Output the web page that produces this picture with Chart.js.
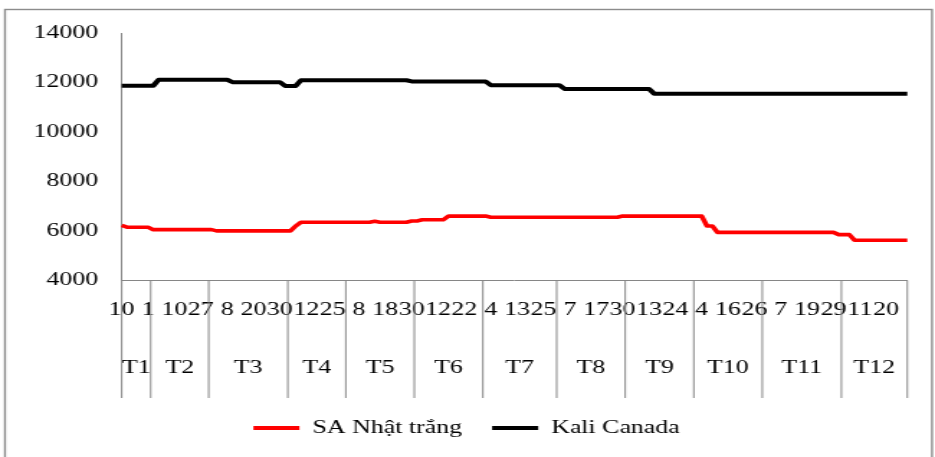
<!DOCTYPE html>
<html>
<head>
<meta charset="utf-8">
<script src="https://cdn.jsdelivr.net/npm/chart.js@4.4.1/dist/chart.umd.min.js"></script>
<style>
html,body{margin:0;padding:0;background:#fff;overflow:hidden}
#wrap{width:935px;height:457px;position:relative}
canvas{display:block}
</style>
</head>
<body>
<div id="wrap"><canvas id="c" width="650" height="457" style="width:935px;height:457px"></canvas></div>
<script>
// ---- data ----
const months = ['T1','T2','T3','T4','T5','T6','T7','T8','T9','T10','T11','T12'];
const daysT1  = [10,14,17,21,25,1];
const daysT2  = [2,4,6,8,10,14,17,21,24,27,28];
const daysT3  = [1,3,6,8,10,13,15,17,20,22,24,27,28,30,31];
const daysT4  = [3,5,9,12,14,17,19,23,25,27,29];
const daysT5  = [3,6,8,10,13,15,16,18,21,23,25,28,30];
const daysT6  = [1,4,6,8,12,14,16,18,20,22,25,27,29];
const daysT7  = [2,4,6,8,10,11,13,16,18,20,23,25,27,30];
const daysT8  = [1,3,7,9,11,13,15,17,20,22,24,27,30];
const daysT9  = [3,5,7,10,13,15,17,19,21,24,26,28,30];
const daysT10 = [2,4,7,9,11,14,16,18,21,23,24,26,29];
const daysT11 = [1,3,5,7,9,12,14,16,19,21,23,25,27,29,30];
const daysT12 = [3,5,8,11,13,15,17,18,20,23,25,27,30];
const monthDays = [daysT1,daysT2,daysT3,daysT4,daysT5,daysT6,daysT7,daysT8,daysT9,daysT10,daysT11,daysT12];

const saNhatTrang = [
  6220,6150,6150,6150,6150,6150,6050,6050,6050,6050,
  6050,6050,6050,6050,6050,6050,6050,6050,6000,6000,
  6000,6000,6000,6000,6000,6000,6000,6000,6000,6000,
  6000,6000,6000,6200,6350,6350,6350,6350,6350,6350,
  6350,6350,6350,6350,6350,6350,6350,6350,6390,6350,
  6350,6350,6350,6350,6350,6400,6400,6450,6450,6450,
  6450,6450,6600,6600,6600,6600,6600,6600,6600,6600,
  6550,6550,6550,6550,6550,6550,6550,6550,6550,6550,
  6550,6550,6550,6550,6550,6550,6550,6550,6550,6550,
  6550,6550,6550,6550,6550,6600,6600,6600,6600,6600,
  6600,6600,6600,6600,6600,6600,6600,6600,6600,6600,
  6600,6200,6200,5940,5940,5940,5940,5940,5940,5940,
  5940,5940,5940,5940,5940,5940,5940,5940,5940,5940,
  5940,5940,5940,5940,5940,5940,5850,5850,5850,5620,
  5620,5620,5620,5620,5620,5620,5620,5620,5620,5620
];
const kaliCanada = [
  11880,11880,11880,11880,11880,11880,11880,12120,12120,12120,
  12120,12120,12120,12120,12120,12120,12120,12120,12120,12120,
  12120,12020,12020,12020,12020,12020,12020,12020,12020,12020,
  12020,11870,11870,11870,12100,12100,12100,12100,12100,12100,
  12100,12100,12100,12100,12100,12100,12100,12100,12100,12100,
  12100,12100,12100,12100,12100,12050,12050,12050,12050,12050,
  12050,12050,12050,12050,12050,12050,12050,12050,12050,12050,
  11900,11900,11900,11900,11900,11900,11900,11900,11900,11900,
  11900,11900,11900,11900,11750,11750,11750,11750,11750,11750,
  11750,11750,11750,11750,11750,11750,11750,11750,11750,11750,
  11750,11550,11550,11550,11550,11550,11550,11550,11550,11550,
  11550,11550,11550,11550,11550,11550,11550,11550,11550,11550,
  11550,11550,11550,11550,11550,11550,11550,11550,11550,11550,
  11550,11550,11550,11550,11550,11550,11550,11550,11550,11550,
  11550,11550,11550,11550,11550,11550,11550,11550,11550,11550
];
const seriesNames = ['SA Nhật trắng', 'Kali Canada'];
const yTicks = [4000, 6000, 8000, 10000, 12000, 14000];
const labelEvery = 5;

// ---- build ----
const SX = 935 / 650;               // horizontal stretch of the picture
const FONT = "'Liberation Serif', 'Times New Roman', serif";
const labels = monthDays.flat().map(String);
const monthStarts = [];
{ let s = 0; monthDays.forEach(g => { monthStarts.push(s); s += g.length; }); }

Chart.defaults.font.family = FONT;
Chart.defaults.font.size = 18;
Chart.defaults.color = '#000';

const frame = {
  id: 'frame',
  beforeDraw(chart) {
    const ctx = chart.ctx;
    ctx.save();
    ctx.fillStyle = '#fff';
    ctx.fillRect(0, 0, chart.width, chart.height);
    ctx.strokeStyle = '#8c8c8c';
    ctx.lineWidth = 1.4;
    ctx.strokeRect(5 / SX, 9.5, (932 - 5) / SX, 470);
    ctx.restore();
  }
};

const monthAxis = {
  id: 'monthAxis',
  afterDraw(chart) {
    const xs = chart.scales.x, ctx = chart.ctx;
    const edges = monthStarts.map((s, i) => xs.getPixelForValue(i === 0 ? 0 : s - 0.5));
    edges.push(xs.getPixelForValue(labels.length - 1));
    ctx.save();
    ctx.strokeStyle = '#868686';
    ctx.lineWidth = 1;
    edges.forEach(x => {
      ctx.beginPath();
      ctx.moveTo(x, xs.top);
      ctx.lineTo(x, 398);
      ctx.stroke();
    });
    ctx.fillStyle = '#000';
    ctx.font = '18px ' + FONT;
    ctx.textAlign = 'center';
    ctx.textBaseline = 'middle';
    months.forEach((m, i) => ctx.fillText(m, (edges[i] + edges[i + 1]) / 2, 368));
    ctx.restore();
  }
};

const PAD_L = 18;
const AREA_L = 121.7 / SX;
const AREA_R = 907.3 / SX;

new Chart(document.getElementById('c'), {
  type: 'line',
  data: {
    labels: labels,
    datasets: [
      { label: seriesNames[0], data: saNhatTrang, borderColor: '#ff0000', backgroundColor: '#ff0000',
        borderWidth: 3.6, pointRadius: 0, tension: 0, fill: false, borderJoinStyle: 'round' },
      { label: seriesNames[1], data: kaliCanada, borderColor: '#000000', backgroundColor: '#000000',
        borderWidth: 4, pointRadius: 0, tension: 0, fill: false, borderJoinStyle: 'round' }
    ]
  },
  options: {
    responsive: false,
    devicePixelRatio: 1,
    animation: false,
    layout: { padding: { left: PAD_L, right: 650 - AREA_R, top: 33.3, bottom: 10 } },
    plugins: {
      tooltip: { enabled: false },
      legend: {
        position: 'bottom',
        labels: {
          boxWidth: 32, boxHeight: 4, padding: 21, color: '#000',
          font: { size: 18, family: FONT },
          generateLabels(chart) {
            return Chart.defaults.plugins.legend.labels.generateLabels(chart).map(l => Object.assign(l, { lineWidth: 0 }));
          }
        }
      }
    },
    scales: {
      x: {
        type: 'category',
        offset: false,
        grid: { display: false, drawTicks: false, tickLength: 0 },
        border: { display: true, color: '#868686', width: 1 },
        ticks: {
          autoSkip: false, maxRotation: 0, minRotation: 0, padding: 19,
          color: '#000', font: { size: 18, family: FONT },
          callback(v, i) { return i % labelEvery === 0 ? this.getLabelForValue(v) : ''; }
        },
        afterFit(s) { s.height = 396 - 278.3; }
      },
      y: {
        min: yTicks[0], max: yTicks[yTicks.length - 1],
        grid: { display: false, drawTicks: false, tickLength: 0 },
        border: { display: true, color: '#868686', width: 1 },
        ticks: {
          stepSize: yTicks[1] - yTicks[0], padding: 16.3, color: '#000', font: { size: 18, family: FONT },
          callback(v) { return String(v); }
        },
        afterFit(s) { s.width = AREA_L - PAD_L; }
      }
    }
  },
  plugins: [frame, monthAxis]
});
</script>
</body>
</html>
